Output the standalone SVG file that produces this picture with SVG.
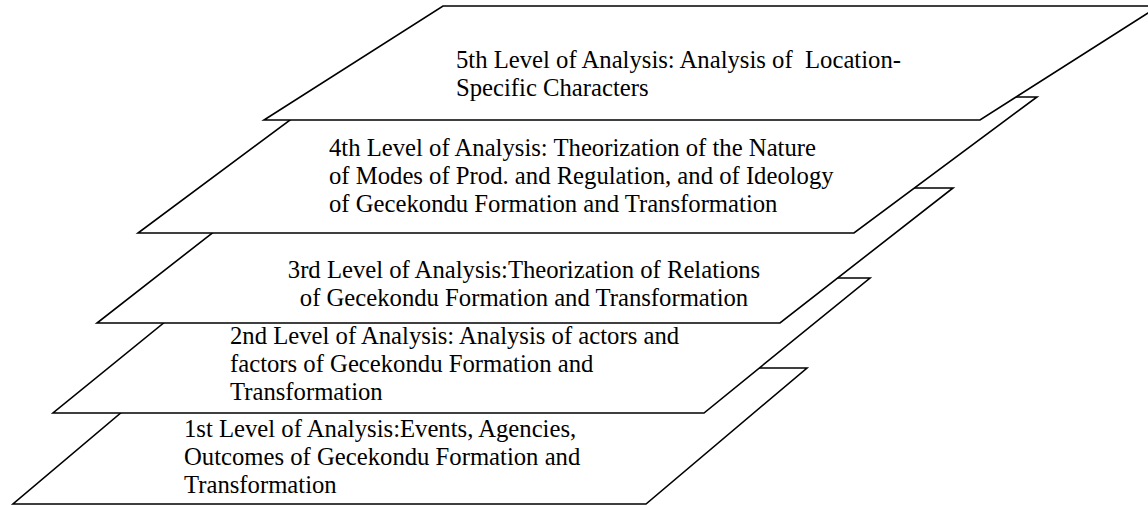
<svg xmlns="http://www.w3.org/2000/svg" width="1148" height="505" viewBox="0 0 1148 505">
  <style>
    .plane { fill: #ffffff; stroke: #000000; stroke-width: 1.6; stroke-linejoin: miter; }
    .label { font-family: "Liberation Serif", "Times New Roman", serif; font-size: 24.7px; fill: #000000; }
    .mid { text-anchor: middle; }
  </style>
  <rect width="1148" height="505" fill="#ffffff"/>

  <!-- stacked planes, drawn bottom level first so upper planes overlap -->
  <g id="level-1">
    <polygon class="plane" points="174,368 807,368 646,504 13,504"/>
    <text class="label" x="184" y="437" xml:space="preserve">1st Level of Analysis:Events, Agencies,</text>
    <text class="label" x="184" y="465">Outcomes of Gecekondu Formation and</text>
    <text class="label" x="184" y="493">Transformation</text>
  </g>

  <g id="level-2">
    <polygon class="plane" points="219,278 870,278 704,413 53,413"/>
    <text class="label" x="230" y="344">2nd Level of Analysis: Analysis of actors and</text>
    <text class="label" x="230" y="372">factors of Gecekondu Formation and</text>
    <text class="label" x="230" y="400">Transformation</text>
  </g>

  <g id="level-3">
    <polygon class="plane" points="270,188 953,188 780,323 97,323"/>
    <text class="label mid" x="524" y="278">3rd Level of Analysis:Theorization of Relations</text>
    <text class="label mid" x="524" y="306">of Gecekondu Formation and Transformation</text>
  </g>

  <g id="level-4">
    <polygon class="plane" points="321,97 1037,97 854,233 138,233"/>
    <text class="label" x="329" y="156">4th Level of Analysis: Theorization of the Nature</text>
    <text class="label" x="329" y="184">of Modes of Prod. and Regulation, and of Ideology</text>
    <text class="label" x="329" y="212">of Gecekondu Formation and Transformation</text>
  </g>

  <g id="level-5">
    <polygon class="plane" points="443,6 1159,6 980,120 264,120"/>
    <text class="label" x="456" y="68" xml:space="preserve">5th Level of Analysis: Analysis of  Location-</text>
    <text class="label" x="456" y="96">Specific Characters</text>
  </g>

  <g id="connectors"/>
</svg>
